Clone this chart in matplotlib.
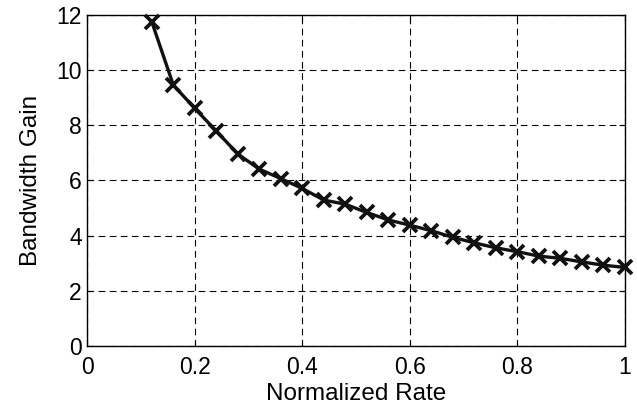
import matplotlib
matplotlib.use("Agg")
import matplotlib.pyplot as plt
import numpy as np

plt.rcParams['font.family'] = ['Liberation Sans', 'DejaVu Sans']

rate = [0.12, 0.16, 0.20, 0.24, 0.28, 0.32, 0.36, 0.40, 0.44, 0.48, 0.52, 0.56,
        0.60, 0.64, 0.68, 0.72, 0.76, 0.80, 0.84, 0.88, 0.92, 0.96, 1.00]
gain = [11.75, 9.46, 8.61, 7.79, 6.96, 6.41, 6.07, 5.71, 5.29, 5.14, 4.84, 4.57,
        4.38, 4.18, 3.94, 3.74, 3.56, 3.42, 3.26, 3.18, 3.05, 2.93, 2.85]
xticks = [0, 0.2, 0.4, 0.6, 0.8, 1]
xticklabels = ['0', '0.2', '0.4', '0.6', '0.8', '1']
yticks = [0, 2, 4, 6, 8, 10, 12]

fig = plt.figure(figsize=(6.37, 4.13), dpi=100)
ax = fig.add_axes([0.137, 0.162, 0.844, 0.802])
ax.plot(rate, gain, color='#111111', linewidth=2.4, marker='x', markersize=10,
        markeredgewidth=2.7, clip_on=False, zorder=3)
ax.set_xlim(0, 1)
ax.set_ylim(0, 12)
ax.set_xticks(xticks)
ax.set_xticklabels(xticklabels)
ax.set_yticks(yticks)
ax.grid(True, color='black', linestyle=(0, (6, 4)), linewidth=0.8)
ax.tick_params(axis='x', direction='in', length=4, labelsize=16.5, top=True, pad=7)
ax.tick_params(axis='y', direction='in', length=4, labelsize=16.5, right=True, pad=4)
for s in ax.spines.values():
    s.set_linewidth(1.0)
ax.set_xlabel('Normalized Rate', fontsize=17.5, labelpad=3)
ax.set_ylabel('Bandwidth Gain', fontsize=17.5, labelpad=10)
fig.savefig('out.png', dpi=100)
